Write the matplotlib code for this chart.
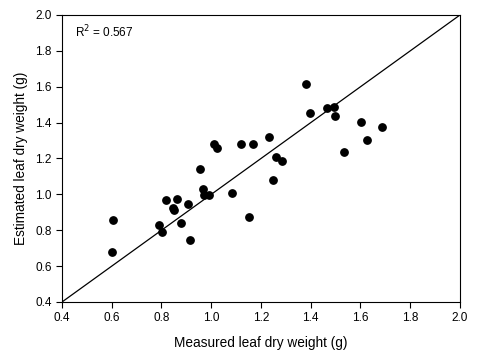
import matplotlib
matplotlib.use('Agg')
import matplotlib.pyplot as plt
import numpy as np

plt.rcParams['font.family'] = ['Liberation Sans', 'DejaVu Sans']

# measured vs estimated leaf dry weight (g)
measured = [0.604, 0.601, 0.791, 0.802, 0.817, 0.847, 0.850, 0.861, 0.877, 0.905,
            0.916, 0.956, 0.966, 0.971, 0.990, 1.010, 1.024, 1.083, 1.121, 1.153,
            1.168, 1.233, 1.249, 1.260, 1.286, 1.38, 1.397, 1.464, 1.493, 1.499,
            1.535, 1.602, 1.627, 1.685]
estimated = [0.855, 0.677, 0.828, 0.790, 0.970, 0.922, 0.913, 0.976, 0.839, 0.947,
             0.744, 1.140, 1.028, 0.998, 0.998, 1.279, 1.257, 1.010, 1.279, 0.873,
             1.279, 1.318, 1.082, 1.208, 1.186, 1.615, 1.452, 1.483, 1.486, 1.439,
             1.236, 1.402, 1.303, 1.377]
r2 = 0.567

fig = plt.figure(figsize=(4.78, 3.56), dpi=100)
ax = fig.add_axes([0.1297, 0.1517, 0.8326, 0.8062])

ax.plot([0.4, 2.0], [0.4, 2.0], color='black', lw=0.9)
ax.scatter(measured, estimated, s=28, color='black', zorder=3)

ax.set_xlim(0.4, 2.0)
ax.set_ylim(0.4, 2.0)
ticks = np.arange(0.4, 2.01, 0.2)
ax.set_xticks(ticks)
ax.set_yticks(ticks)
ax.set_xticklabels(['%.1f' % t for t in ticks])
ax.set_yticklabels(['%.1f' % t for t in ticks])
ax.tick_params(direction='out', length=4, width=0.8, labelsize=8.5)
for sp in ax.spines.values():
    sp.set_linewidth(0.8)

ax.set_xlabel('Measured leaf dry weight (g)', fontsize=9.8, labelpad=8)
ax.set_ylabel('Estimated leaf dry weight (g)', fontsize=9.8, labelpad=5)
ax.text(0.033, 0.94, 'R$^2$ = %.3f' % r2, transform=ax.transAxes,
        fontsize=8.5, va='center', ha='left')

fig.savefig('out.png', dpi=100)
